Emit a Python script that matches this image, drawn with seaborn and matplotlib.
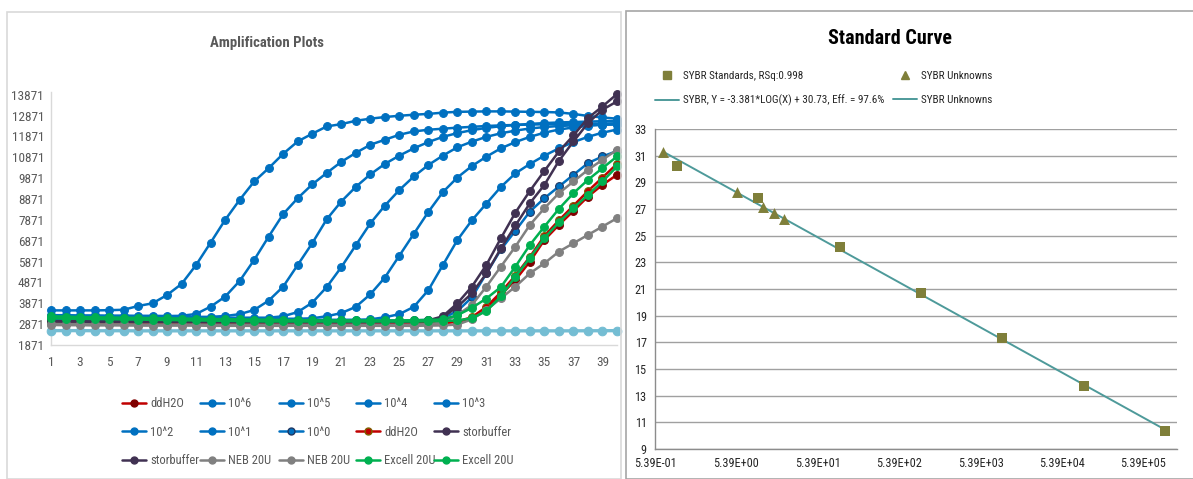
import matplotlib
matplotlib.use("Agg")
import matplotlib.pyplot as plt
import numpy as np
import pandas as pd
import seaborn as sns
from matplotlib import font_manager
from matplotlib.patches import Rectangle
from matplotlib.lines import Line2D

sns.set_theme(style="white")
available = {f.name for f in font_manager.fontManager.ttflist}
NARROW = next((n for n in ["Liberation Sans Narrow", "Roboto Condensed", "Liberation Sans"]
               if n in available), "DejaVu Sans")
plt.rcParams["font.family"] = [NARROW, "DejaVu Sans"]

# ---------------- amplification data (fluorescence per cycle) ----------------
cycles = list(range(1, 41))

ddh2o_a = [2960, 2950, 2940, 2940, 2930, 2930, 2920, 2920, 2910, 2910,
           2910, 2900, 2900, 2900, 2900, 2890, 2890, 2890, 2890, 2890,
           2880, 2880, 2880, 2880, 2880, 2880, 2890, 2920, 2980, 3150,
           3600, 4270, 4990, 5870, 6910, 7630, 8300, 8990, 9550, 10030]
std_e6 = [3530, 3530, 3530, 3530, 3540, 3560, 3740, 3870, 4270, 4800,
          5710, 6780, 7870, 8830, 9710, 10350, 11040, 11630, 12000, 12350,
          12460, 12620, 12720, 12800, 12860, 12910, 12950, 13010, 13050, 13060,
          13070, 13070, 13060, 13050, 13040, 13020, 12950, 12850, 12780, 12720]
std_e5 = [3300, 3300, 3290, 3290, 3280, 3280, 3270, 3270, 3260, 3270,
          3360, 3710, 4190, 4940, 5950, 7070, 8150, 8910, 9570, 10120,
          10650, 11080, 11470, 11710, 11950, 12110, 12190, 12240, 12290, 12330,
          12370, 12400, 12420, 12440, 12450, 12460, 12470, 12480, 12490, 12500]
std_e4 = [3250, 3250, 3245, 3240, 3240, 3235, 3230, 3230, 3225, 3225,
          3220, 3220, 3260, 3350, 3550, 4000, 4670, 5710, 6750, 7900,
          8750, 9450, 10050, 10550, 10950, 11300, 11600, 11850, 12030, 12170,
          12280, 12360, 12420, 12470, 12510, 12540, 12560, 12580, 12600, 12610]
std_e3 = [3200, 3200, 3195, 3195, 3190, 3190, 3190, 3185, 3185, 3185,
          3180, 3180, 3180, 3180, 3180, 3180, 3250, 3450, 3900, 4650,
          5600, 6650, 7700, 8550, 9300, 9950, 10500, 10950, 11350, 11620,
          11850, 12020, 12150, 12250, 12320, 12370, 12400, 12420, 12430, 12440]
std_e2 = [3150, 3150, 3150, 3145, 3145, 3140, 3140, 3140, 3135, 3135,
          3135, 3130, 3130, 3130, 3130, 3130, 3130, 3130, 3150, 3250,
          3400, 3700, 4300, 5100, 6150, 7200, 8250, 9200, 9900, 10450,
          10900, 11300, 11600, 11850, 12050, 12200, 12300, 12380, 12430, 12470]
std_e1 = [3100, 3100, 3100, 3095, 3095, 3090, 3090, 3090, 3085, 3085,
          3085, 3080, 3080, 3080, 3080, 3080, 3080, 3080, 3080, 3080,
          3080, 3080, 3100, 3200, 3350, 3700, 4500, 5700, 6900, 7850,
          8650, 9450, 10100, 10550, 10950, 11300, 11600, 11850, 12050, 12200]
std_e0 = [3060, 3060, 3060, 3055, 3055, 3050, 3050, 3050, 3050, 3045,
          3045, 3045, 3040, 3040, 3040, 3040, 3040, 3040, 3040, 3040,
          3040, 3040, 3040, 3040, 3040, 3050, 3080, 3150, 3500, 4150,
          5300, 6450, 7350, 8270, 8910, 9470, 10030, 10590, 10910, 11170]
ddh2o_b = [2980, 2970, 2960, 2960, 2950, 2950, 2940, 2940, 2940, 2930,
           2930, 2930, 2920, 2920, 2920, 2920, 2910, 2910, 2910, 2910,
           2910, 2910, 2900, 2900, 2900, 2910, 2920, 2950, 3000, 3200,
           3700, 4400, 5200, 6100, 7100, 7850, 8550, 9250, 9900, 10550]
stor_a = [3020, 3010, 3010, 3000, 3000, 3000, 2990, 2990, 2990, 2990,
          2980, 2980, 2980, 2980, 2980, 2980, 2980, 2980, 2980, 2980,
          2980, 2980, 2980, 2990, 3000, 3020, 3050, 3250, 3870, 4670,
          5710, 6990, 8220, 9260, 10220, 11150, 11920, 12750, 13310, 13900]
stor_b = [3000, 2990, 2990, 2980, 2980, 2980, 2970, 2970, 2970, 2970,
          2960, 2960, 2960, 2960, 2960, 2960, 2960, 2960, 2960, 2960,
          2960, 2960, 2960, 2970, 2980, 2990, 3020, 3200, 3700, 4350,
          5300, 6500, 7600, 8670, 9550, 10700, 11630, 12510, 13150, 13550]
neb_a = [2880, 2870, 2870, 2860, 2860, 2860, 2850, 2850, 2850, 2850,
         2850, 2840, 2840, 2840, 2840, 2840, 2840, 2840, 2840, 2840,
         2840, 2840, 2840, 2840, 2840, 2850, 2870, 2950, 3310, 3790,
         4670, 5630, 6590, 7630, 8430, 9150, 9710, 10270, 10750, 11230]
neb_b = [2830, 2820, 2820, 2810, 2810, 2810, 2800, 2800, 2800, 2800,
         2800, 2790, 2790, 2790, 2790, 2790, 2790, 2790, 2790, 2790,
         2790, 2790, 2790, 2790, 2790, 2790, 2800, 2810, 2850, 3100,
         3550, 4110, 4670, 5310, 5790, 6350, 6750, 7150, 7550, 7950]
exc_a = [3250, 3230, 3210, 3200, 3190, 3180, 3170, 3160, 3150, 3140,
         3130, 3120, 3110, 3100, 3090, 3080, 3070, 3060, 3060, 3050,
         3050, 3050, 3050, 3050, 3050, 3060, 3070, 3100, 3300, 3650,
         4100, 4650, 5630, 6670, 7550, 8400, 9150, 9790, 10350, 10910]
exc_b = [3150, 3140, 3130, 3120, 3110, 3100, 3090, 3080, 3070, 3060,
         3050, 3040, 3030, 3020, 3010, 3000, 3000, 3000, 3000, 3000,
         3000, 3000, 3000, 3000, 3000, 3000, 3010, 3020, 3050, 3150,
         3500, 4200, 5150, 6050, 7000, 7750, 8430, 9070, 9710, 10430]
ntc_ref = [2560, 2560, 2560, 2555, 2555, 2555, 2550, 2550, 2550, 2550,
           2550, 2550, 2550, 2550, 2550, 2550, 2550, 2550, 2550, 2550,
           2550, 2550, 2550, 2550, 2550, 2550, 2550, 2550, 2550, 2550,
           2550, 2550, 2550, 2550, 2550, 2550, 2550, 2555, 2555, 2560]

series_labels = ["ddH2O", "10^6", "10^5", "10^4", "10^3", "10^2", "10^1", "10^0",
                 "ddH2O", "storbuffer", "storbuffer", "NEB 20U", "NEB 20U",
                 "Excell 20U", "Excell 20U"]
series_values = [ddh2o_a, std_e6, std_e5, std_e4, std_e3, std_e2, std_e1, std_e0,
                 ddh2o_b, stor_a, stor_b, neb_a, neb_b, exc_a, exc_b]
line_colors = ["#C00000", "#0070C0", "#0070C0", "#0070C0", "#0070C0", "#0070C0",
               "#0070C0", "#0070C0", "#C00000", "#403152", "#403152", "#808080",
               "#808080", "#00B050", "#00B050"]
marker_colors = ["#7F0000", "#0070C0", "#0070C0", "#0070C0", "#0070C0", "#0070C0",
                 "#0070C0", "#0070C0", "#C00000", "#403152", "#403152", "#808080",
                 "#808080", "#00B050", "#00B050"]
edge_colors = ["#7F0000", "#0070C0", "#0070C0", "#0070C0", "#0070C0", "#0070C0",
               "#0070C0", "#1F3864", "#7F6000", "#403152", "#403152", "#808080",
               "#808080", "#00B050", "#00B050"]

y_ticks = [1871 + 1000 * k for k in range(13)]
x_ticks = list(range(1, 40, 2))

# ---------------- standard curve data ----------------
std_qty = [1e0, 1e1, 1e2, 1e3, 1e4, 1e5, 1e6]
std_ct = [30.20, 27.85, 24.18, 20.73, 17.35, 13.75, 10.35]
unk_qty = [0.676, 5.43, 11.56, 15.63, 20.75]
unk_ct = [31.30, 28.25, 27.13, 26.69, 26.28]
fit_slope = -3.381
fit_intercept = 30.73
x_label_values = [0.539 * 10 ** k for k in range(7)]
x_label_texts = ["5.39E-01", "5.39E+00", "5.39E+01", "5.39E+02",
                 "5.39E+03", "5.39E+04", "5.39E+05"]

W, H = 1193, 479
fig = plt.figure(figsize=(W / 100, H / 100), dpi=100)

# panel frames
fig.add_artist(Rectangle((7 / W, 0), (621 - 7) / W, 1 - 12 / H, transform=fig.transFigure,
                         fill=False, edgecolor="#D9D9D9", linewidth=1.2))
fig.add_artist(Rectangle((626 / W, 0), (W - 626) / W + 0.01, 1 - 11 / H,
                         transform=fig.transFigure, fill=False, edgecolor="#A6A6A6",
                         linewidth=1.2))

# ---------------- left: amplification plots ----------------
axL = fig.add_axes([51 / W, 1 - 345 / H, (617 - 51) / W, (345 - 92) / H])
handles = []
for i, (lab, vals) in enumerate(zip(series_labels, series_values)):
    df = pd.DataFrame({"cycle": cycles, "rfu": vals})
    sns.lineplot(data=df, x="cycle", y="rfu", ax=axL, color=line_colors[i],
                 linewidth=1.8, marker="o", markersize=5.6,
                 markerfacecolor=marker_colors[i], markeredgecolor=edge_colors[i],
                 markeredgewidth=0.8, clip_on=False, zorder=3 + i * 0.01)
    handles.append(Line2D([], [], color=line_colors[i], linewidth=1.8, marker="o",
                          markersize=5.0, markerfacecolor=marker_colors[i],
                          markeredgecolor=edge_colors[i], label=lab))
df_ref = pd.DataFrame({"cycle": cycles, "rfu": ntc_ref})
sns.lineplot(data=df_ref, x="cycle", y="rfu", ax=axL, color="#74BDD3", linewidth=2.4,
             marker="o", markersize=6.2, markeredgecolor="#74BDD3", clip_on=False,
             zorder=2.9)

axL.set_xlim(1, 40)
axL.set_ylim(1871, 14000)
axL.set_xticks(x_ticks)
axL.set_yticks(y_ticks)
axL.set_xlabel("")
axL.set_ylabel("")
axL.tick_params(axis="x", length=0, labelsize=9.5, colors="#595959", pad=8)
axL.tick_params(axis="y", length=0, labelsize=9.5, colors="#595959", pad=5)
for s in ["top", "right"]:
    axL.spines[s].set_visible(False)
for s in ["left", "bottom"]:
    axL.spines[s].set_color("#D9D9D9")
    axL.spines[s].set_linewidth(1.0)
axL.grid(False)
fig.text(267 / W, 1 - 43 / H, "Amplification Plots", ha="center", va="center",
         fontsize=10.6, fontweight="bold", color="#595959")

# legend: five columns, filled row by row
ncol, nrow = 5, 3
col_x = [122, 200, 279, 356, 434]
for c in range(ncol):
    idx = [r * ncol + c for r in range(nrow)]
    leg = fig.legend([handles[k] for k in idx], [series_labels[k] for k in idx],
                     loc="upper left", bbox_to_anchor=(col_x[c] / W, 1 - 397 / H),
                     frameon=False, fontsize=9, handlelength=1.9, handletextpad=0.35,
                     labelspacing=1.25, borderpad=0, borderaxespad=0)
    for t in leg.get_texts():
        t.set_color("#595959")

# ---------------- right: standard curve ----------------
axR = fig.add_axes([655 / W, 1 - 449 / H, (1177 - 655) / W, 320 / H])
fit_x = np.array([min(unk_qty), max(std_qty)])
fit_df = pd.DataFrame({"qty": fit_x, "ct": fit_slope * np.log10(fit_x) + fit_intercept})
sns.lineplot(data=fit_df, x="qty", y="ct", ax=axR, color="#4E9A9A", linewidth=1.4, zorder=3)
sns.scatterplot(x=std_qty, y=std_ct, ax=axR, marker="s", s=62, color="#7F7F3A",
                edgecolor="#7F7F3A", linewidth=0, zorder=4)
sns.scatterplot(x=unk_qty, y=unk_ct, ax=axR, marker="^", s=62, color="#7F7F3A",
                edgecolor="#7F7F3A", linewidth=0, zorder=5)
axR.set_xscale("log")
axR.set_xlim(0.539, 0.539 * 10 ** (522 / 81.4))
axR.set_ylim(9, 33)
axR.set_yticks(list(range(9, 34, 2)))
axR.set_xticks(x_label_values)
axR.set_xticklabels(x_label_texts)
axR.minorticks_off()
axR.set_xlabel("")
axR.set_ylabel("")
axR.tick_params(axis="both", length=0, labelsize=8.8, colors="#262626", pad=6)
axR.yaxis.grid(True, color="#A0A0A0", linewidth=1.0)
axR.xaxis.grid(False)
for s in ["top", "right"]:
    axR.spines[s].set_visible(False)
for s in ["left", "bottom"]:
    axR.spines[s].set_color("#8C8C8C")
    axR.spines[s].set_linewidth(1.0)
fig.text(890 / W, 1 - 39 / H, "Standard Curve", ha="center", va="center",
         fontsize=14.5, fontweight="bold", color="black")

r_handles = [
    Line2D([], [], linestyle="none", marker="s", markersize=6, color="#7F7F3A"),
    Line2D([], [], color="#4E9A9A", linewidth=1.4),
    Line2D([], [], linestyle="none", marker="^", markersize=6, color="#7F7F3A"),
    Line2D([], [], color="#4E9A9A", linewidth=1.4),
]
r_labels = ["SYBR Standards, RSq:0.998", "SYBR, Y = -3.381*LOG(X) + 30.73, Eff. = 97.6%",
            "SYBR Unknowns", "SYBR Unknowns"]
for c, x0 in enumerate([655, 893]):
    legR = fig.legend(r_handles[2 * c:2 * c + 2], r_labels[2 * c:2 * c + 2],
                      loc="upper left", bbox_to_anchor=(x0 / W, 1 - 71 / H),
                      frameon=False, fontsize=8.0, handlelength=2.2, handletextpad=0.35,
                      labelspacing=1.25, borderpad=0, borderaxespad=0)
    for t in legR.get_texts():
        t.set_color("#262626")

fig.savefig("out.png", dpi=100)
